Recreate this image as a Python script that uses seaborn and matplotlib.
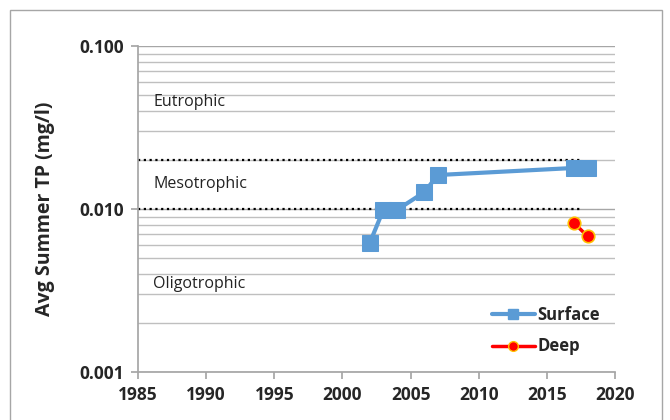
import numpy as np, pandas as pd
import matplotlib.pyplot as plt
import seaborn as sns
from matplotlib.patches import Rectangle
from matplotlib.lines import Line2D

surf_years = [2002, 2003, 2004, 2006, 2007, 2017, 2018]
surf_tp = [0.0062, 0.0099, 0.0099, 0.0127, 0.0162, 0.0179, 0.0179]
deep_years = [2017, 2018]
deep_tp = [0.0082, 0.0068]
limits_tp = [0.02, 0.01]
zones = ["Eutrophic", "Mesotrophic", "Oligotrophic"]
zone_y = [0.0453, 0.0142, 0.00347]

sns.set_theme(style="white")
plt.rcParams.update({"font.family": ["Open Sans", "DejaVu Sans"]})

fig = plt.figure(figsize=(6.7, 4.2), dpi=100)
ax = fig.add_axes([0.206, 0.114, 0.712, 0.776])

surf = pd.DataFrame({"year": surf_years, "tp": surf_tp})
deep = pd.DataFrame({"year": deep_years, "tp": deep_tp})

for v in limits_tp:
    ax.plot([1985, 2017.6], [v, v], color="black", linestyle=(0, (1, 1.6)), lw=1.6, zorder=2)

sns.lineplot(data=surf, x="year", y="tp", ax=ax, color="#5B9BD5", lw=3,
             marker="s", markersize=11, markeredgecolor="#5B9BD5", zorder=4)
sns.lineplot(data=deep, x="year", y="tp", ax=ax, color="#FF0000", lw=2.5,
             marker="o", markersize=9, markeredgecolor="#FFC000", markeredgewidth=1.2, zorder=4)

ax.set_yscale("log")
ax.set_ylim(0.001, 0.1)
ax.set_xlim(1985, 2020)
ax.set_xticks(range(1985, 2021, 5))
ax.set_yticks([0.001, 0.01, 0.1])
ax.set_yticklabels(["0.001", "0.010", "0.100"])
ax.yaxis.set_minor_formatter(plt.NullFormatter())
ax.grid(True, which="major", axis="y", color="#A6A6A6", lw=1)
ax.grid(True, which="minor", axis="y", color="#BFBFBF", lw=1)
ax.grid(False, axis="x")
ax.set_axisbelow(True)
for s in ["top", "right"]:
    ax.spines[s].set_visible(False)
for s in ["left", "bottom"]:
    ax.spines[s].set_color("#A6A6A6")
ax.tick_params(axis="both", which="major", direction="out", length=5, color="#A6A6A6",
               labelsize=12.5, pad=5, bottom=True, left=True)
ax.tick_params(axis="y", which="minor", left=False)
for lab in ax.get_xticklabels() + ax.get_yticklabels():
    lab.set_fontweight("bold")
ax.set_xlabel("")
ax.set_ylabel("Avg Summer TP (mg/l)", fontsize=14, fontweight="bold", labelpad=18)

for name, y in zip(zones, zone_y):
    ax.text(1986.1, y, name, fontsize=11.5, va="center", ha="left", color="#222222")

handles = [Line2D([], [], color="#5B9BD5", lw=3, marker="s", markersize=7),
           Line2D([], [], color="#FF0000", lw=2.5, marker="o", markersize=7,
                  markeredgecolor="#FFC000")]
leg = ax.legend(handles, ["Surface", "Deep"], loc="lower right", frameon=False,
                prop={"weight": "bold", "size": 12}, handlelength=2.6,
                bbox_to_anchor=(1.0, 0.005), labelspacing=0.8, handletextpad=0.15)

fig.patches.append(Rectangle((0.015, -0.02), 0.973, 0.996, transform=fig.transFigure,
                             fill=False, edgecolor="#A6A6A6", lw=1))
fig.savefig("out.png", dpi=100)
